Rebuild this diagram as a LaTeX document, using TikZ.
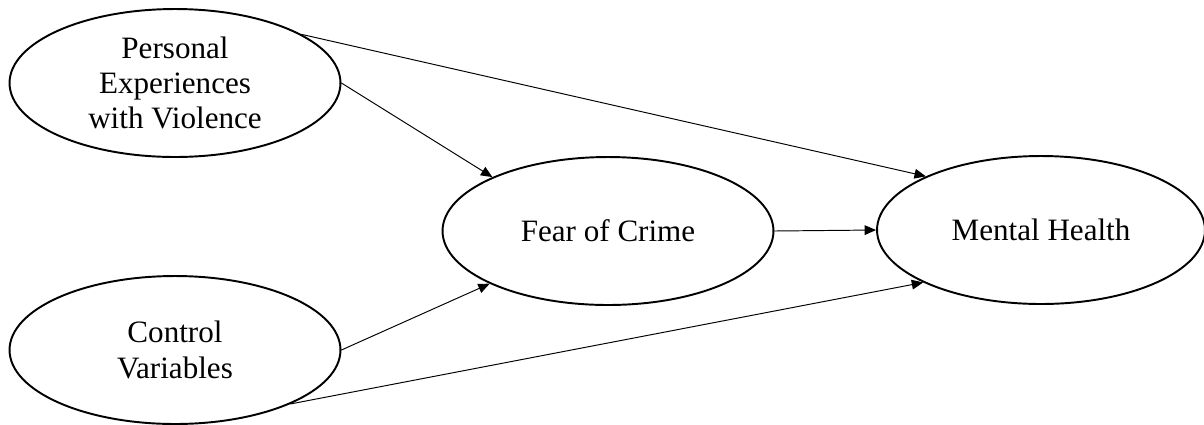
\documentclass[tikz,border=0pt]{standalone}
\usepackage{fontspec}
\setmainfont{Liberation Serif}
\usetikzlibrary{shapes.geometric,arrows.meta}

\begin{document}
\begin{tikzpicture}[
  x=0.02cm, y=-0.02cm,
  line cap=round,
  line join=round,
  every node/.style={font=\fontsize{17.7}{20}\selectfont},
  factor/.style={ellipse, draw, line width=1.1pt, inner sep=0pt,
    minimum width=6.62cm, minimum height=2.96cm, align=center},
  path/.style={line width=0.55pt, -{Triangle[length=6.5pt,width=5.5pt]}}
]
  % Рамка рисунка
  \useasboundingbox (0,0) rectangle (1204,424);

  % Эллипсы
  \node[factor] (pev) at (175,83) {Personal\\Experiences\\with Violence};
  \node[factor] (cv)  at (175,350) {Control\\Variables};
  \node[factor] (foc) at (608,231) {Fear of Crime};
  \node[factor, minimum width=6.56cm] (mh) at (1041,230) {Mental Health};

  % Стрелки от опыта насилия
  \draw[path] (pev.21.8) -- (mh.155.7);
  \draw[path] (pev.east) -- (foc.155.4);

  % Стрелки от контрольных переменных
  \draw[path] (cv.east) -- (foc.204.9);
  \draw[path] (cv.-25.3) -- (mh.204.7);

  % Страх преступности -> психическое здоровье
  \draw[path] (foc.east) -- (mh.west);
\end{tikzpicture}
\end{document}
